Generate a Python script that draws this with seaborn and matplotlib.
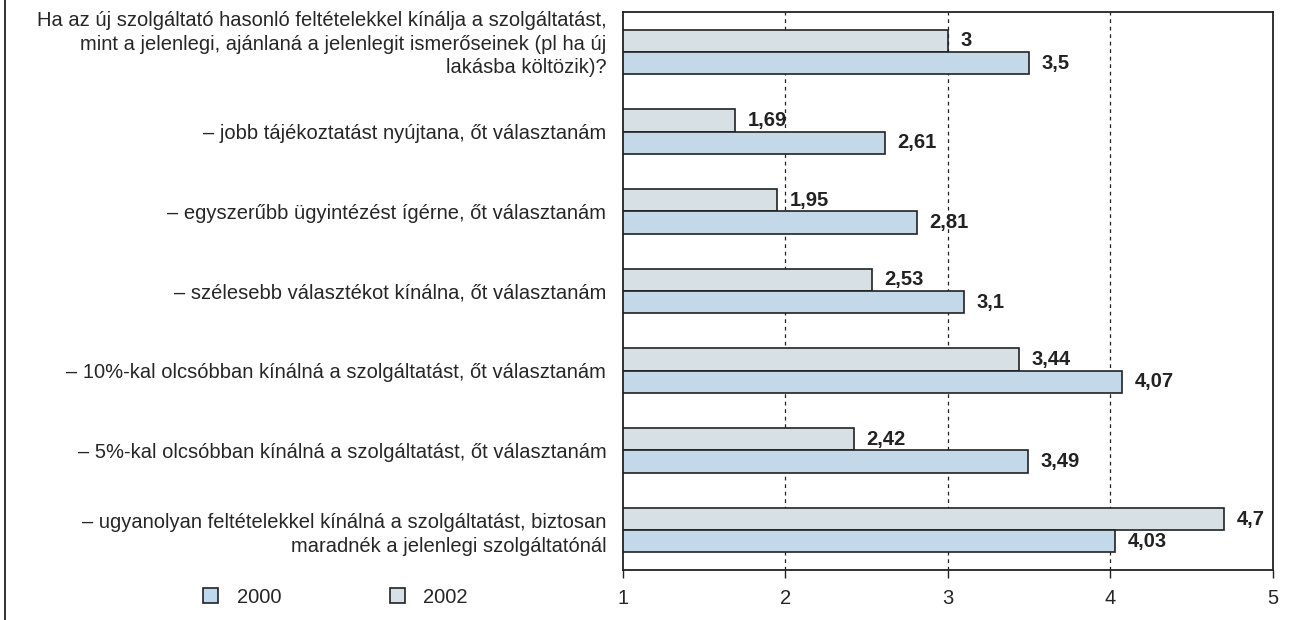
import matplotlib
matplotlib.use("Agg")
import matplotlib.pyplot as plt
from matplotlib.lines import Line2D
from matplotlib.transforms import ScaledTranslation
import seaborn as sns
import pandas as pd

categories = [
    "Ha az új szolgáltató hasonló feltételekkel kínálja a szolgáltatást,\nmint a jelenlegi, ajánlaná a jelenlegit ismerőseinek (pl ha új\nlakásba költözik)?",
    "– jobb tájékoztatást nyújtana, őt választanám",
    "– egyszerűbb ügyintézést ígérne, őt választanám",
    "– szélesebb választékot kínálna, őt választanám",
    "– 10%-kal olcsóbban kínálná a szolgáltatást, őt választanám",
    "– 5%-kal olcsóbban kínálná a szolgáltatást, őt választanám",
    "– ugyanolyan feltételekkel kínálná a szolgáltatást, biztosan\nmaradnék a jelenlegi szolgáltatónál",
]
values_2002 = [3, 1.69, 1.95, 2.53, 3.44, 2.42, 4.7]
values_2000 = [3.5, 2.61, 2.81, 3.1, 4.07, 3.49, 4.03]
years = ["2002", "2000"]
x_ticks = [1, 2, 3, 4, 5]

colors = {"2002": "#d5e1e7", "2000": "#bdd9ee"}

df = pd.DataFrame({
    "kategoria": categories * 2,
    "ev": ["2002"] * len(categories) + ["2000"] * len(categories),
    "ertek": values_2002 + values_2000,
})

sns.set_theme(style="white")
plt.rcParams["font.family"] = ["Liberation Sans", "DejaVu Sans"]

fig = plt.figure(figsize=(12.97, 6.2), dpi=100)
ax = fig.add_axes([0.4803, 0.0806, 0.5012, 0.9000])

sns.barplot(data=df, y="kategoria", x="ertek", hue="ev", hue_order=years,
            palette=colors, orient="h", width=0.56, edgecolor="#222222",
            linewidth=1.2, ax=ax, legend=False, errorbar=None)

ax.set_xlim(1, 5)
ax.set_ylim(len(categories) - 0.5, -0.5)
ax.set_xticks(x_ticks)
ax.set_xticklabels([str(t) for t in x_ticks], fontsize=14.5)
ax.set_xlabel("")
ax.set_ylabel("")
ax.tick_params(axis="y", which="major", length=0, pad=12, labelsize=14.5)
ax.set_yticks([i - 0.5 for i in range(len(categories) + 1)], minor=True)
ax.tick_params(axis="y", which="minor", length=5, width=1, color="#222222", direction="out")
ax.tick_params(axis="x", which="major", length=6, width=1, color="#222222",
               direction="out", bottom=True, pad=8)
for lbl in ax.get_yticklabels():
    lbl.set_horizontalalignment("right")
    lbl.set_multialignment("right")
    lbl.set_linespacing(1.3)

# the long three-line question sits a little higher than its bar pair
first = ax.get_yaxis().get_major_ticks()[0].label1
first.set_transform(first.get_transform() + ScaledTranslation(0, 0.12, fig.dpi_scale_trans))

for xv in [2, 3, 4]:
    ax.axvline(xv, color="#222222", linestyle=(0, (3, 3)), linewidth=0.9, zorder=0)

for spine in ax.spines.values():
    spine.set_visible(True)
    spine.set_color("#222222")
    spine.set_linewidth(1.3)

for container, vals in zip(ax.containers, [values_2002, values_2000]):
    labels = [f"{v:g}".replace(".", ",") for v in vals]
    ax.bar_label(container, labels=labels, padding=9, fontsize=14.5,
                 fontweight="bold", color="#222222")

handles = [plt.Rectangle((0, 0), 1, 1, facecolor=colors["2000"], edgecolor="#222222", linewidth=1.2),
           plt.Rectangle((0, 0), 1, 1, facecolor=colors["2002"], edgecolor="#222222", linewidth=1.2)]
fig.legend(handles, ["2000", "2002"], loc="center left", bbox_to_anchor=(0.149, 0.037),
           ncol=2, frameon=False, fontsize=14.5, handlelength=0.75, handleheight=0.75,
           columnspacing=5.4, handletextpad=0.9, borderpad=0.0)

fig.add_artist(Line2D([0.0035, 0.0035], [0, 1], transform=fig.transFigure,
                      color="#222222", linewidth=1.3))

fig.savefig("out.png", dpi=100)
